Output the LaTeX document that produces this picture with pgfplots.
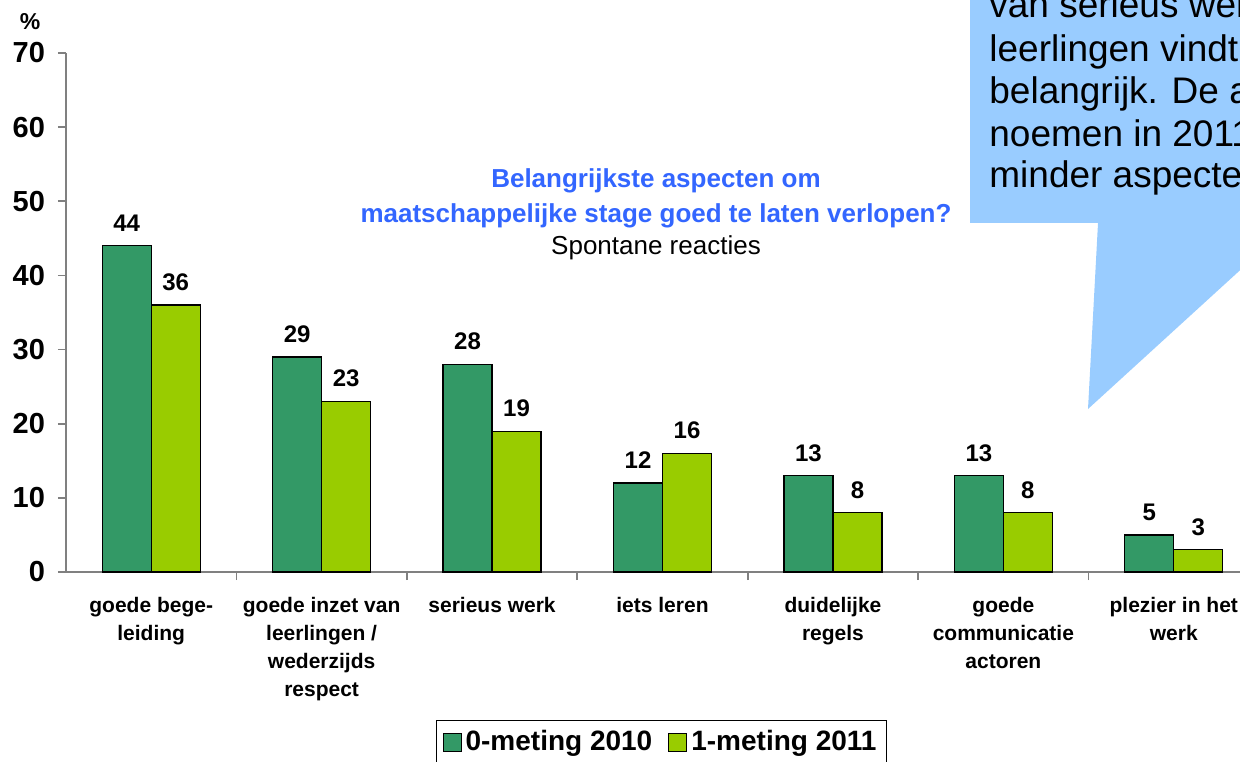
\documentclass[border=0pt]{standalone}
\usepackage{pgfplots}
\pgfplotsset{compat=1.18}
\usepackage{fontspec}
\setmainfont{Liberation Sans}

\definecolor{darkbar}{HTML}{339966}
\definecolor{lightbar}{HTML}{99CC00}
\definecolor{callout}{HTML}{99CCFF}
\definecolor{titleblue}{HTML}{3366FF}
\definecolor{axisgray}{HTML}{808080}

\pgfplotstableread{
x  v2010 v2011
0  44    36
1  29    23
2  28    19
3  12    16
4  13    8
5  13    8
6  5     3
}\resdata

\begin{document}
\begin{tikzpicture}
\useasboundingbox (0,0) rectangle (620pt,380.5pt);
\clip (0,0) rectangle (620pt,380.5pt);
\begin{axis}[
    at={(33pt,94.5pt)}, anchor=south west,
    scale only axis,
    width=596.5pt, height=259.5pt,
    xmin=-0.5, xmax=6.5,
    ymin=0, ymax=70,
    ytick={0,10,...,70},
    xtick={0,...,6},
    xticklabels={
        {goede bege-\\leiding},
        {goede inzet van\\leerlingen /\\wederzijds\\respect},
        {serieus werk},
        {iets leren},
        {duidelijke\\regels},
        {goede\\communicatie\\actoren},
        {plezier in het\\werk}},
    minor x tick num=1,
    major x tick style={draw=none},
    axis x line=bottom, axis y line=left,
    axis line style={-, axisgray, line width=0.8pt},
    tick style={axisgray, line width=0.8pt},
    tick align=outside,
    major tick length=4pt, minor tick length=4pt,
    xticklabel style={font=\bfseries\fontsize{10.5}{14}\selectfont, align=center, anchor=north, yshift=-5pt},
    yticklabel style={font=\bfseries\fontsize{14.5}{16}\selectfont, xshift=-3pt},
    /pgf/number format/assume math mode=true,
    ybar=0pt, bar width=24.5pt,
    nodes near coords,
    every node near coord/.append style={font=\bfseries\fontsize{12}{14}\selectfont, black, yshift=3.5pt},
    legend columns=2,
    legend style={at={(0.4992,-0.2852)}, anchor=north, draw=black, line width=0.5pt,
        font=\bfseries\fontsize{14}{16}\selectfont, inner sep=3pt,
        /tikz/every even column/.append style={column sep=6pt}},
    legend image code/.code={\draw[#1, draw=black, line width=0.5pt] (0pt,-4.5pt) rectangle (9pt,4.5pt);},
]
\addplot[fill=darkbar, draw=black, line width=0.6pt] table[x=x, y=v2010] {\resdata};
\addlegendentry{0-meting 2010}
\addplot[fill=lightbar, draw=black, line width=0.6pt] table[x=x, y=v2011] {\resdata};
\addlegendentry{1-meting 2011}
\end{axis}

\node[font=\bfseries\fontsize{11.5}{13}\selectfont] at (15pt,369.5pt) {\%};

\node[font=\bfseries\fontsize{13}{15}\selectfont, text=titleblue] at (328pt,290pt) {Belangrijkste aspecten om};
\node[font=\bfseries\fontsize{13}{15}\selectfont, text=titleblue] at (328pt,272.5pt) {maatschappelijke stage goed te laten verlopen?};
\node[font=\fontsize{13}{15}\selectfont] at (328pt,256.5pt) {Spontane reacties};

\fill[callout] (485pt,390.5pt) -- (485pt,269pt) -- (549pt,269pt) -- (544pt,176pt)
    -- (630pt,254.5pt) -- (630pt,390.5pt) -- cycle;
\begin{scope}[every node/.style={anchor=base west, inner sep=0pt, font=\fontsize{18.5}{21}\selectfont}]
\node at (494.5pt,392.5pt) {de aspecten};
\node at (494.5pt,371.5pt) {van serieus werk};
\node at (494.5pt,349.5pt) {leerlingen vindt};
\node at (494.5pt,328.5pt) {belangrijk. De andere};
\node at (494.5pt,307pt) {noemen in 2011};
\node at (494.5pt,286.5pt) {minder aspecten};
\end{scope}
\end{tikzpicture}
\end{document}
